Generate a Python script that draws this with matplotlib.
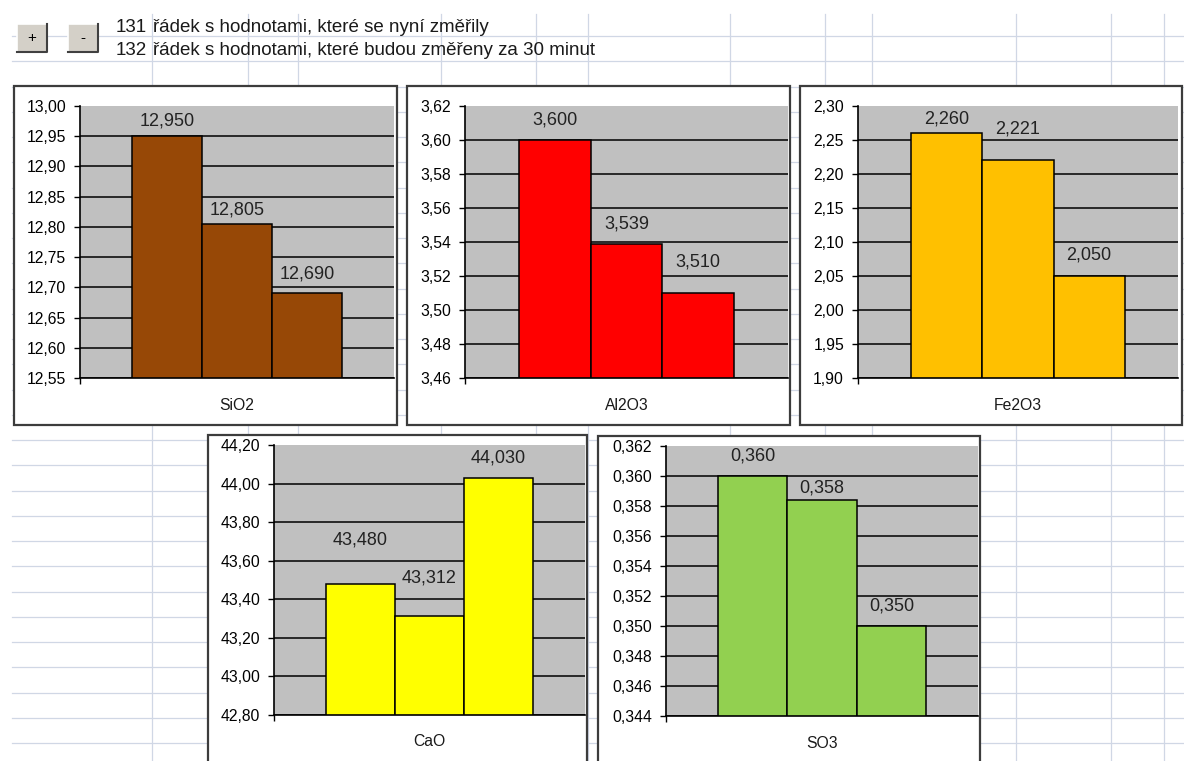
import numpy as np
import matplotlib
matplotlib.use('Agg')
import matplotlib.pyplot as plt
from matplotlib.patches import Rectangle
from matplotlib.lines import Line2D

plt.rcParams['font.family'] = ['Liberation Sans', 'DejaVu Sans']

W, H = 1184, 761

# --- data -------------------------------------------------------------
compounds = ['SiO2', 'Al2O3', 'Fe2O3', 'CaO', 'SO3']
sio2 = [12.950, 12.805, 12.690]
al2o3 = [3.600, 3.539, 3.510]
fe2o3 = [2.260, 2.221, 2.050]
cao = [43.480, 43.312, 44.030]
so3 = [0.360, 0.3584, 0.350]
values = [sio2, al2o3, fe2o3, cao, so3]

y_min = [12.55, 3.46, 1.90, 42.80, 0.344]
y_max = [13.00, 3.62, 2.30, 44.20, 0.362]
y_step = [0.05, 0.02, 0.05, 0.20, 0.002]
tick_decimals = [2, 2, 2, 2, 3]

row_numbers = ['131', '132']
row_notes = ['řádek s hodnotami, které se nyní změřily',
             'řádek s hodnotami, které budou změřeny za 30 minut']

# --- layout (pixels, y grows downwards) --------------------------------
bar_colors = ['#974806', '#ff0000', '#ffc000', '#ffff00', '#92d050']
chart_boxes = [(14, 86, 397, 425), (407, 86, 790, 425), (800, 86, 1182, 425),
               (208, 435, 587, 775), (598, 436, 980, 775)]
plot_areas = [(80, 106, 394, 378), (465, 106, 788, 378), (858, 106, 1178, 378),
              (274, 445, 585, 715), (666, 446, 978, 716)]
label_offsets = [[15, 14, 19], [20, 20, 31], [14, 31, 21], [44, 38, 20], [20, 12, 20]]
sheet_cols = [152, 248, 298, 441, 536, 588, 730, 825, 872, 1016, 1111, 1164]
grid_color = '#d0d7e5'


def fx(x):
    return x / W


def fy(y):
    return 1 - y / H


def comma(v, d):
    return f'{v:.{d}f}'.replace('.', ',')


fig = plt.figure(figsize=(W / 100, H / 100), dpi=100)
fig.patch.set_facecolor('white')

# spreadsheet grid in the background
for y in np.arange(36, H + 5, 25.25):
    fig.add_artist(Line2D([fx(12), 1], [fy(y), fy(y)], color=grid_color, lw=0.9, zorder=-3))
for x in sheet_cols:
    fig.add_artist(Line2D([fx(x), fx(x)], [fy(14), 0], color=grid_color, lw=0.9, zorder=-3))

# "+" and "-" buttons
for x0, sign in [(17, '+'), (68, '-')]:
    x1, y0, y1 = x0 + 30, 24, 52
    fig.add_artist(Rectangle((fx(x0), fy(y1)), fx(x1) - fx(x0), fy(y0) - fy(y1),
                             transform=fig.transFigure, facecolor='#d4d0c8',
                             edgecolor='none', zorder=-1))
    fig.add_artist(Line2D([fx(x0), fx(x0), fx(x1)], [fy(y1), fy(y0), fy(y0)],
                          color='white', lw=1.2, zorder=-1))
    fig.add_artist(Line2D([fx(x0), fx(x1), fx(x1)], [fy(y1), fy(y1), fy(y0)],
                          color='#404040', lw=1.5, zorder=-1))
    fig.text(fx((x0 + x1) / 2), fy((y0 + y1) / 2), sign, ha='center', va='center',
             fontsize=11, color='black')

# header rows
for i, (num, note) in enumerate(zip(row_numbers, row_notes)):
    base = 32 + 23 * i
    fig.text(fx(147), fy(base), num, ha='right', va='baseline', fontsize=13.5, color='#1a1a1a')
    fig.text(fx(153), fy(base), note, ha='left', va='baseline', fontsize=13.5, color='#1a1a1a')

# charts
for k in range(len(compounds)):
    bx0, by0, bx1, by1 = chart_boxes[k]
    fig.add_artist(Rectangle((fx(bx0), fy(by1)), fx(bx1) - fx(bx0), fy(by0) - fy(by1),
                             transform=fig.transFigure, facecolor='white',
                             edgecolor='#3c3c3c', lw=1.6, zorder=-1))

    px0, py0, px1, py1 = plot_areas[k]
    ax = fig.add_axes([fx(px0), fy(py1), fx(px1) - fx(px0), fy(py0) - fy(py1)])
    ax.set_facecolor('#c0c0c0')

    ticks = np.round(np.arange(y_min[k], y_max[k] + y_step[k] / 2, y_step[k]), 4)
    ax.set_ylim(y_min[k], y_max[k])
    ax.set_xlim(-2.25, 2.25)
    ax.set_yticks(ticks)
    ax.set_yticklabels([comma(t, tick_decimals[k]) for t in ticks])
    ax.tick_params(axis='y', direction='out', length=4, width=1, pad=6,
                   labelsize=11.3, colors='black')
    ax.set_xticks([-2.25])
    ax.set_xticklabels([''])
    ax.tick_params(axis='x', direction='out', length=4, width=1)

    for t in ticks[:-1]:
        ax.axhline(t, color='black', lw=1.1, zorder=1)

    xs = [-1, 0, 1]
    ax.bar(xs, values[k], width=1.0, bottom=0, color=bar_colors[k],
           edgecolor='black', lw=1.1, zorder=2)

    for x, v, off in zip(xs, values[k], label_offsets[k]):
        ax.annotate(comma(v, 3), xy=(x, v), xytext=(0, off), textcoords='offset pixels',
                    ha='center', va='center', fontsize=13, color='#222222', zorder=3)

    ax.annotate(compounds[k], xy=(0.5, 0), xycoords='axes fraction', xytext=(0, -27),
                textcoords='offset pixels', ha='center', va='center', fontsize=11.3,
                color='#1a1a1a', annotation_clip=False)

    for side in ['top', 'right']:
        ax.spines[side].set_visible(False)
    for side in ['left', 'bottom']:
        ax.spines[side].set_color('black')
        ax.spines[side].set_linewidth(1.2)

fig.savefig('out.png', dpi=100)
